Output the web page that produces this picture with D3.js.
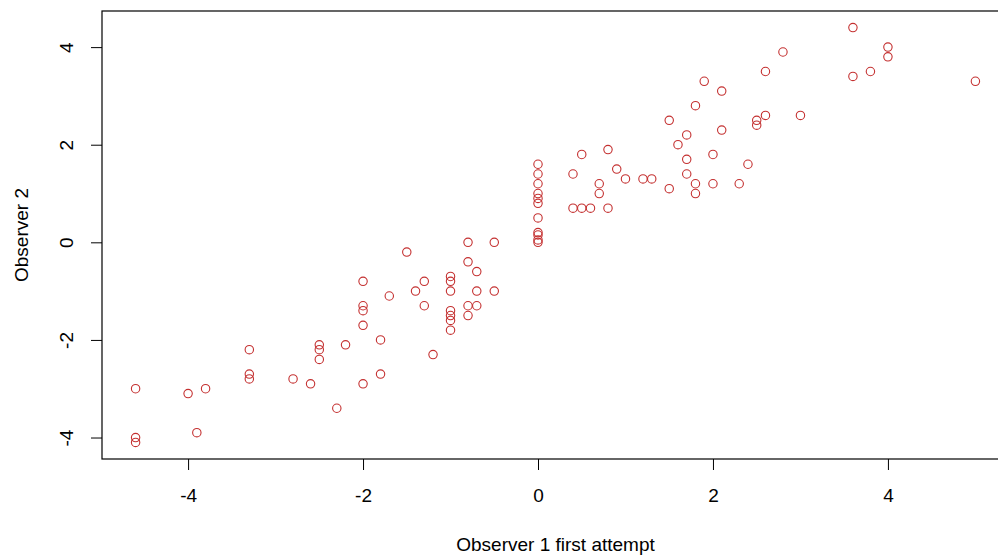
<!DOCTYPE html>
<html>
<head>
<meta charset="utf-8">
<script src="https://cdn.jsdelivr.net/npm/d3@7"></script>
<style>
  body { margin: 0; background: #fff; }
  svg { display: block; font-family: "Liberation Sans", Arial, sans-serif; }
</style>
</head>
<body>
<div id="chart"></div>
<script>
// Observer 1 (first attempt) vs Observer 2
const obs1 = [
  -4.6, -4.6, -4.6, -4.0, -3.9, -3.8, -3.3, -3.3, -3.3, -2.8,
  -2.6, -2.5, -2.5, -2.5, -2.3, -2.2, -2.0, -2.0, -2.0, -2.0,
  -2.0, -1.8, -1.8, -1.7, -1.5, -1.4, -1.3, -1.3, -1.2, -1.0,
  -1.0, -1.0, -1.0, -1.0, -1.0, -1.0, -0.8, -0.8, -0.8, -0.8,
  -0.7, -0.7, -0.7, -0.5, -0.5, 0, 0, 0, 0, 0,
  0, 0, 0, 0, 0, 0, 0.4, 0.4, 0.5, 0.5,
  0.6, 0.7, 0.7, 0.8, 0.8, 0.9, 1.0, 1.2, 1.3, 1.5,
  1.5, 1.6, 1.7, 1.7, 1.7, 1.8, 1.8, 1.8, 1.9, 2.0,
  2.0, 2.1, 2.1, 2.3, 2.4, 2.5, 2.5, 2.6, 2.6, 2.8,
  3.0, 3.6, 3.6, 3.8, 4.0, 4.0, 5.0
]
const obs2 = [
  -3.0, -4.0, -4.1, -3.1, -3.9, -3.0, -2.2, -2.7, -2.8, -2.8,
  -2.9, -2.1, -2.2, -2.4, -3.4, -2.1, -0.8, -1.3, -1.4, -1.7,
  -2.9, -2.0, -2.7, -1.1, -0.2, -1.0, -0.8, -1.3, -2.3, -0.7,
  -0.8, -1.0, -1.4, -1.5, -1.6, -1.8, 0.0, -0.4, -1.3, -1.5,
  -0.6, -1.0, -1.3, 0.0, -1.0, 1.6, 1.4, 1.2, 1.0, 0.9,
  0.8, 0.5, 0.2, 0.15, 0.05, 0.0, 1.4, 0.7, 1.8, 0.7,
  0.7, 1.2, 1.0, 1.9, 0.7, 1.5, 1.3, 1.3, 1.3, 2.5,
  1.1, 2.0, 2.2, 1.7, 1.4, 2.8, 1.2, 1.0, 3.3, 1.8,
  1.2, 3.1, 2.3, 1.2, 1.6, 2.5, 2.4, 3.5, 2.6, 3.9,
  2.6, 4.4, 3.4, 3.5, 4.0, 3.8, 3.3
]
const xTicks = [-4, -2, 0, 2, 4]
const yTicks = [-4, -2, 0, 2, 4]

const WIDTH = 998
const HEIGHT = 555
const MARGIN = { TOP: 11, RIGHT: -11, BOTTOM: 96, LEFT: 102 }
const FONT = 19

const data = obs1.map((d, i) => ({ x: d, y: obs2[i] }))

// R style axis range: data extent widened by 4% on each side
const pad = ext => {
  const p = (ext[1] - ext[0]) * 0.04
  return [ext[0] - p, ext[1] + p]
}

// plain hyphen minus, as R prints it
const fmt = d => String(d)

const x = d3.scaleLinear()
  .domain(pad(d3.extent(obs1)))
  .range([MARGIN.LEFT, WIDTH - MARGIN.RIGHT])

const y = d3.scaleLinear()
  .domain(pad(d3.extent(obs2)))
  .range([HEIGHT - MARGIN.BOTTOM, MARGIN.TOP])

const svg = d3.select("#chart")
  .append("svg")
  .attr("width", WIDTH)
  .attr("height", HEIGHT)

// x axis
const xAxis = svg.append("g")
  .attr("transform", `translate(0, ${HEIGHT - MARGIN.BOTTOM})`)
  .call(d3.axisBottom(x).tickValues(xTicks).tickSize(11).tickPadding(0).tickFormat(fmt))
xAxis.select(".domain").remove()
xAxis.selectAll("line").attr("stroke", "#000")
xAxis.selectAll("text")
  .attr("font-size", FONT)
  .attr("font-family", "Liberation Sans, Arial, sans-serif")
  .attr("fill", "#000")
  .attr("y", 36)
  .attr("dy", "0.35em")

// y axis, labels parallel to the axis like R's default
const yAxis = svg.append("g")
  .attr("transform", `translate(${MARGIN.LEFT}, 0)`)
  .call(d3.axisLeft(y).tickValues(yTicks).tickSize(11).tickFormat(fmt))
yAxis.select(".domain").remove()
yAxis.selectAll("line").attr("stroke", "#000")
yAxis.selectAll("text")
  .attr("font-size", FONT)
  .attr("font-family", "Liberation Sans, Arial, sans-serif")
  .attr("fill", "#000")
  .attr("x", null)
  .attr("text-anchor", "middle")
  .attr("transform", "translate(-36, 0) rotate(-90)")
  .attr("dy", "0.35em")

// plot frame
svg.append("rect")
  .attr("x", x.range()[0])
  .attr("y", y.range()[1])
  .attr("width", x.range()[1] - x.range()[0])
  .attr("height", y.range()[0] - y.range()[1])
  .attr("fill", "none")
  .attr("stroke", "#000")
  .attr("stroke-width", 1.2)

// points
svg.append("g")
  .selectAll("circle")
  .data(data)
  .join("circle")
  .attr("cx", d => x(d.x))
  .attr("cy", d => y(d.y))
  .attr("r", 4.2)
  .attr("fill", "none")
  .attr("stroke", "#c43030")
  .attr("stroke-width", 1.1)

// axis titles
const xMid = (x.range()[0] + x.range()[1]) / 2
const yMid = (y.range()[0] + y.range()[1]) / 2

svg.append("text")
  .attr("x", xMid)
  .attr("y", 544)
  .attr("dy", "0.35em")
  .attr("text-anchor", "middle")
  .attr("font-size", FONT)
  .text("Observer 1 first attempt")

svg.append("text")
  .attr("transform", `translate(21, ${yMid}) rotate(-90)`)
  .attr("dy", "0.35em")
  .attr("text-anchor", "middle")
  .attr("font-size", FONT)
  .text("Observer 2")
</script>
</body>
</html>
